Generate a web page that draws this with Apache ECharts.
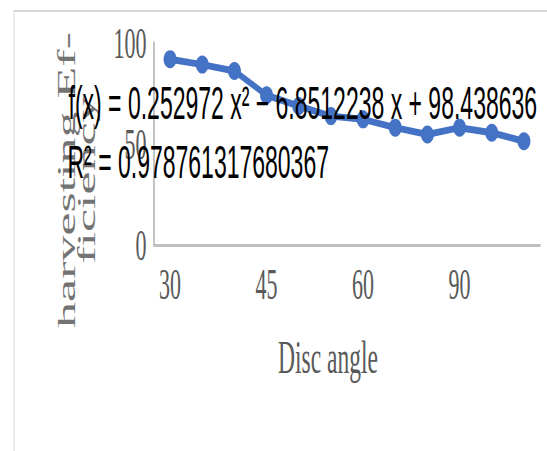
<!DOCTYPE html>
<html><head><meta charset="utf-8">
<script src="https://cdn.jsdelivr.net/npm/echarts@6/dist/echarts.min.js"></script>
<style>
html,body{margin:0;padding:0;background:#fff;overflow:hidden;width:547px;height:451px}
#wrap{width:547px;height:451px;overflow:hidden;position:relative}
#chart{width:1094px;height:451px;transform:scaleX(0.5);transform-origin:0 0;}
</style></head><body>
<div id="wrap"><div id="chart"></div></div>
<script>
// Data
const categories = ['30','30','30','45','45','45','60','60','60','90','90','90'];
const efficiency = [92.0, 89.3, 86.1, 74.1, 68.8, 63.8, 62.2, 58.1, 54.7, 58.1, 55.6, 51.4];
const yMin = 0, yMax = 100, yInterval = 50;
const xTitle = 'Disc angle';
const yTitle = 'harvesting Ef-\nficiency';
const equationText = 'f(x) = 0.252972 x² − 6.8512238 x + 98.438636';
const rSquaredText = 'R² = 0.978761317680367';

const chart = echarts.init(document.getElementById('chart'), null, {renderer: 'svg'});
const serif = 'Liberation Serif, Times New Roman, serif';
const sans = 'Liberation Sans, Arial, sans-serif';
chart.setOption({
  animation: false,
  backgroundColor: '#fff',
  grid: {left: 308, right: 14, top: 43, bottom: 206, containLabel: false},
  xAxis: {
    type: 'category',
    data: categories,
    boundaryGap: true,
    axisTick: {show: false},
    axisLine: {show: true, lineStyle: {color: '#bfbfbf', width: 3}},
    axisLabel: {interval: 2, fontSize: 44, margin: 17, color: '#595959', fontFamily: serif},
    splitLine: {show: false}
  },
  yAxis: {
    type: 'value',
    min: yMin, max: yMax, interval: yInterval,
    axisTick: {show: false},
    axisLine: {show: true, lineStyle: {color: '#c4c4c4', width: 4}},
    axisLabel: {fontSize: 44, margin: 15, color: '#595959', fontFamily: serif},
    splitLine: {show: false}
  },
  series: [{
    type: 'line',
    data: efficiency,
    symbol: 'circle',
    symbolSize: [26, 18],
    lineStyle: {color: '#4472C4', width: 7},
    itemStyle: {color: '#4472C4'},
    z: 2
  }],
  graphic: [
    {type: 'rect', silent: true, z: 0, shape: {x: 28, y: 11, width: 1200, height: 500},
     style: {fill: 'none', stroke: '#d9d9d9', lineWidth: 2}},
    {type: 'text', z: 50, x: 153, y: 180, rotation: Math.PI / 2,
     style: {text: yTitle, fontSize: 52, lineHeight: 40, fontFamily: serif, fill: '#737373',
             align: 'center', verticalAlign: 'middle'}},
    {type: 'text', z: 50, x: 656, y: 357,
     style: {text: xTitle, fontSize: 47, fontFamily: serif, fill: '#595959',
             align: 'center', verticalAlign: 'middle'}},
    {type: 'text', z: 100, x: 137, y: 103,
     style: {text: equationText, fontSize: 46, fontFamily: sans, fill: '#000',
             align: 'left', verticalAlign: 'middle'}},
    {type: 'text', z: 100, x: 135, y: 162,
     style: {text: rSquaredText, fontSize: 46, fontFamily: sans, fill: '#000',
             align: 'left', verticalAlign: 'middle'}}
  ]
});
</script>
</body></html>
